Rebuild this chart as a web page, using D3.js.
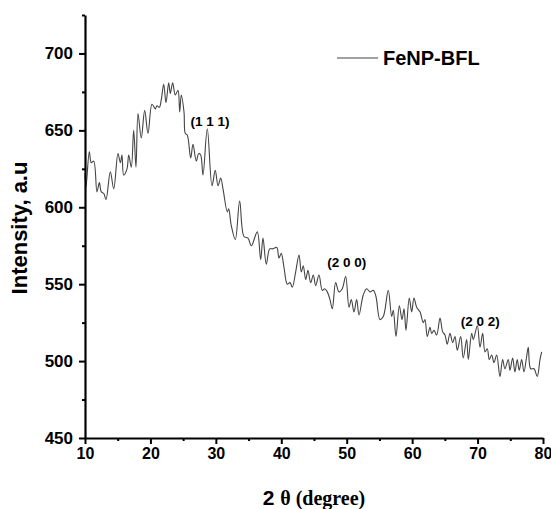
<!DOCTYPE html>
<html>
<head>
<meta charset="utf-8">
<script src="https://d3js.org/d3.v7.min.js"></script>
<style>
  body { margin: 0; background: #fff; }
  svg text { font-family: Arial, "Liberation Sans", sans-serif; }
</style>
</head>
<body>
<div id="chart"></div>
<script>
// XRD pattern: 2theta (degree) and intensity (a.u)
const twoTheta = [
  10.0, 10.15, 10.66, 10.96, 11.33, 11.83, 12.19, 12.49, 12.86, 13.21, 13.87, 14.39,
  15.04, 15.40, 15.65, 15.91, 16.42, 16.68, 17.08, 17.44, 17.79, 18.10, 18.60, 19.12,
  19.63, 20.24, 20.74, 21.00, 21.36, 21.66, 22.03, 22.38, 22.79, 23.04, 23.40, 23.80,
  24.21, 24.48, 24.71, 25.13, 25.33, 25.63, 26.15, 26.50, 27.01, 27.38, 27.68, 28.03,
  28.69, 29.41, 29.91, 30.33, 30.74, 31.09, 31.75, 31.96, 32.36, 32.97, 33.64, 34.30,
  34.91, 35.42, 36.33, 36.85, 37.20, 37.71, 38.23, 38.73, 39.30, 39.65, 40.00, 40.41,
  40.92, 41.33, 41.68, 42.20, 42.71, 43.06, 43.36, 43.73, 44.08, 44.49, 44.89, 45.26,
  45.76, 46.27, 46.63, 47.03, 47.44, 47.80, 48.31, 48.82, 49.32, 49.84, 50.35, 50.70,
  51.11, 51.52, 51.88, 52.53, 53.05, 53.56, 54.06, 54.47, 55.08, 55.59, 56.35, 56.87,
  57.12, 57.53, 58.04, 58.45, 58.76, 59.06, 59.56, 59.93, 60.28, 60.69, 61.20, 61.70,
  61.96, 62.31, 62.73, 62.98, 63.34, 63.75, 64.26, 64.67, 65.02, 65.37, 65.78, 66.20,
  66.55, 66.90, 67.42, 67.81, 68.33, 68.58, 69.10, 69.35, 69.96, 70.37, 70.78, 71.13,
  71.48, 71.79, 72.15, 72.51, 72.92, 73.42, 73.83, 74.18, 74.69, 74.95, 75.36, 75.71,
  76.06, 76.37, 76.74, 77.09, 77.50, 77.75, 78.11, 78.62, 79.12, 79.54, 79.80
];
const intensity = [
  622, 613, 636, 629, 630, 610, 616, 610, 609, 605, 623, 612,
  635, 629, 634, 621, 625, 634, 626, 650, 626, 661, 645, 663,
  648, 667, 664, 666, 665, 670, 680, 668, 681, 674, 681, 673,
  676, 662, 673, 662, 648, 647, 632, 641, 630, 635, 634, 621,
  651, 614, 624, 614, 619, 612, 597, 599, 588, 579, 604, 581,
  580, 575, 584, 566, 580, 563, 573, 573, 574, 567, 570, 561,
  550, 551, 548, 558, 569, 558, 562, 553, 559, 551, 556, 549,
  556, 546, 547, 545, 540, 534, 551, 545, 547, 555, 535, 540,
  532, 540, 530, 543, 547, 545, 546, 542, 527, 529, 546, 529,
  533, 516, 536, 527, 534, 520, 541, 532, 541, 535, 532, 525,
  527, 516, 522, 518, 520, 517, 528, 519, 517, 511, 518, 512,
  516, 507, 516, 502, 514, 501, 518, 514, 523, 509, 518, 506,
  508, 501, 504, 499, 504, 490, 501, 495, 501, 494, 502, 493,
  501, 494, 501, 493, 503, 509, 495, 495, 490, 501, 506
];

const xMajor = [10, 20, 30, 40, 50, 60, 70, 80];
const xMinor = [15, 25, 35, 45, 55, 65, 75];
const yMajor = [450, 500, 550, 600, 650, 700];
const yMinor = [475, 525, 575, 625, 675, 725];

const peakLabels = ["(1 1 1)", "(2 0 0)", "(2 0 2)"];
const peakTheta = [29.1, 50.0, 70.4];
const peakValue = [653, 561, 523];

const seriesName = "FeNP-BFL";

const width = 551, height = 509;
const margin = { top: 15, right: 8, bottom: 71, left: 85 };

const svg = d3.select("#chart").append("svg")
  .attr("width", width)
  .attr("height", height);

const x = d3.scaleLinear().domain([10, 80]).range([margin.left, width - margin.right]);
const y = d3.scaleLinear().domain([450, 725]).range([height - margin.bottom, margin.top]);

const data = twoTheta.map((t, i) => ({ t: t, v: intensity[i] }));

// the trace, smoothed like the instrument plot
const line = d3.line()
  .curve(d3.curveCatmullRom.alpha(0.5))
  .x(d => x(d.t)).y(d => y(d.v));
svg.append("path")
  .datum(data)
  .attr("fill", "none")
  .attr("stroke", "#444")
  .attr("stroke-width", 1.1)
  .attr("stroke-linejoin", "round")
  .attr("d", line);

// axes
function styleAxis(g, size) {
  g.select(".domain").attr("stroke", "#000").attr("stroke-width", 2.2);
  g.selectAll(".tick line").attr("stroke", "#000").attr("stroke-width", 2);
  g.selectAll(".tick text")
    .attr("fill", "#000")
    .style("font-size", size + "px")
    .style("font-weight", "bold");
}

svg.append("g")
  .attr("transform", `translate(${margin.left},0)`)
  .call(d3.axisLeft(y).tickValues(yMajor).tickSize(6).tickPadding(6).tickSizeOuter(0))
  .call(g => styleAxis(g, 17));
svg.append("g")
  .attr("transform", `translate(${margin.left},0)`)
  .call(d3.axisLeft(y).tickValues(yMinor).tickSize(3).tickFormat("").tickSizeOuter(0))
  .call(g => g.select(".domain").remove())
  .call(g => g.selectAll(".tick line").attr("stroke", "#000").attr("stroke-width", 2));

svg.append("g")
  .attr("transform", `translate(0,${height - margin.bottom})`)
  .call(d3.axisBottom(x).tickValues(xMajor).tickSize(6).tickPadding(4).tickSizeOuter(0))
  .call(g => styleAxis(g, 16));
svg.append("g")
  .attr("transform", `translate(0,${height - margin.bottom})`)
  .call(d3.axisBottom(x).tickValues(xMinor).tickSize(3).tickFormat("").tickSizeOuter(0))
  .call(g => g.select(".domain").remove())
  .call(g => g.selectAll(".tick line").attr("stroke", "#000").attr("stroke-width", 2));

// axis titles
svg.append("text")
  .attr("transform", `translate(27,${228}) rotate(-90)`)
  .attr("text-anchor", "middle")
  .style("font-size", "22px")
  .style("font-weight", "bold")
  .text("Intensity, a.u");

const xt = svg.append("text")
  .attr("x", 314)
  .attr("y", 505)
  .attr("text-anchor", "middle")
  .style("font-weight", "bold");
xt.append("tspan").style("font-size", "21px").text("2 ");
xt.append("tspan")
  .style("font-family", "'Liberation Serif', 'Times New Roman', serif")
  .style("font-size", "20px")
  .text("θ (degree)");

// peak labels
svg.append("g").selectAll("text")
  .data(peakLabels)
  .join("text")
  .attr("x", (d, i) => x(peakTheta[i]))
  .attr("y", (d, i) => y(peakValue[i]))
  .attr("text-anchor", "middle")
  .style("font-size", "13.5px")
  .style("font-weight", "bold")
  .text(d => d);

// legend
svg.append("line")
  .attr("x1", 337).attr("x2", 378)
  .attr("y1", 58).attr("y2", 58)
  .attr("stroke", "#444")
  .attr("stroke-width", 1.1);
svg.append("text")
  .attr("x", 383)
  .attr("y", 65)
  .style("font-size", "20px")
  .style("font-weight", "bold")
  .text(seriesName);
</script>
</body>
</html>
